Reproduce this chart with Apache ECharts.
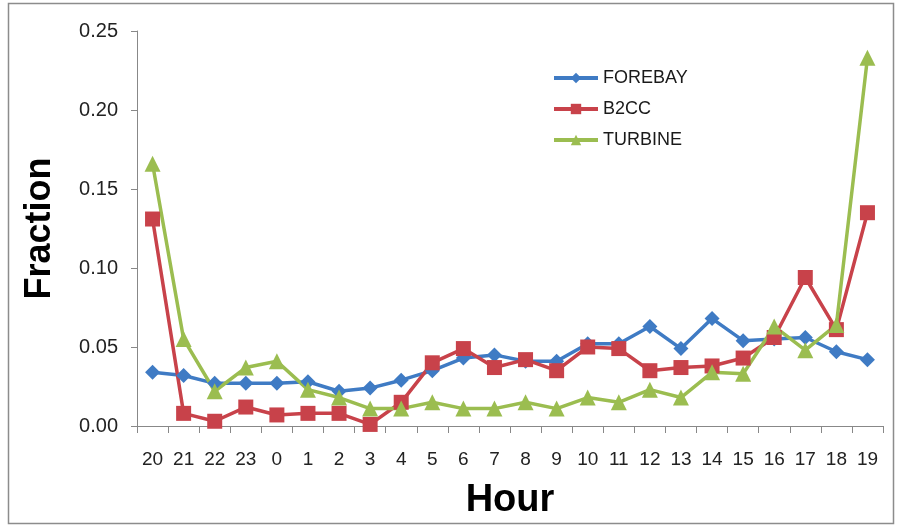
<!DOCTYPE html>
<html>
<head>
<meta charset="utf-8">
<style>
  html, body { margin: 0; padding: 0; background: #fff; }
  #chart { width: 898px; height: 526px; }
</style>
<script src="https://cdn.jsdelivr.net/npm/echarts@6/dist/echarts.min.js"></script>
</head>
<body>
<div id="chart"></div>
<script>
// Hour of day, starting at 20:00
const hours = ['20','21','22','23','0','1','2','3','4','5','6','7','8','9','10','11','12','13','14','15','16','17','18','19'];

const forebay = [0.034,0.032,0.027,0.027,0.027,0.028,0.022,0.024,0.029,0.035,0.043,0.045,0.041,0.041,0.052,0.052,0.063,0.049,0.068,0.054,0.055,0.056,0.047,0.042];
const b2cc    = [0.131,0.008,0.003,0.012,0.007,0.008,0.008,0.001,0.015,0.040,0.049,0.037,0.042,0.035,0.050,0.049,0.035,0.037,0.038,0.043,0.056,0.094,0.061,0.135];
const turbine = [0.166,0.055,0.022,0.037,0.041,0.023,0.018,0.011,0.011,0.015,0.011,0.011,0.015,0.011,0.018,0.015,0.023,0.018,0.034,0.033,0.063,0.048,0.064,0.233];

const yTicks = ['0.00','0.05','0.10','0.15','0.20','0.25'];

const labelFont = "'Liberation Sans', Arial, sans-serif";

const chart = echarts.init(document.getElementById('chart'), null, { renderer: 'canvas' });

function lineSeries(name, data, color, symbol, size) {
  return {
    name: name,
    type: 'line',
    data: data,
    symbol: symbol,
    symbolSize: size,
    lineStyle: { color: color, width: 3.5 },
    itemStyle: { color: color },
    emphasis: { disabled: true },
    animation: false
  };
}

chart.setOption({
  backgroundColor: '#ffffff',
  animation: false,
  graphic: [{
    type: 'rect',
    shape: { x: 8.5, y: 3.5, width: 885, height: 520 },
    style: { fill: 'none', stroke: '#8c8c8c', lineWidth: 1.5 },
    z: -1
  }],
  grid: { left: 137, right: 15, top: 31, bottom: 100, containLabel: false },
  legend: {
    orient: 'vertical',
    left: 552,
    top: 69,
    padding: 0,
    itemWidth: 44,
    itemHeight: 13,
    itemGap: 13,
    lineStyle: { width: 4 },
    textStyle: { fontFamily: labelFont, fontSize: 18, color: '#1a1a1a' },
    data: ['FOREBAY', 'B2CC', 'TURBINE']
  },
  xAxis: {
    type: 'category',
    data: hours,
    boundaryGap: true,
    name: 'Hour',
    nameLocation: 'middle',
    nameGap: 56,
    nameTextStyle: { fontFamily: labelFont, fontWeight: 'bold', fontSize: 38, color: '#000' },
    axisLine: { lineStyle: { color: '#888', width: 1 } },
    axisTick: { show: true, inside: false, length: 7, lineStyle: { color: '#888' } },
    axisLabel: { fontFamily: labelFont, fontSize: 19, color: '#222', margin: 24, interval: 0 },
    splitLine: { show: false }
  },
  yAxis: {
    type: 'value',
    min: 0,
    max: 0.25,
    interval: 0.05,
    name: 'Fraction',
    nameLocation: 'middle',
    nameGap: 79,
    nameTextStyle: { fontFamily: labelFont, fontWeight: 'bold', fontSize: 36, color: '#000' },
    axisLine: { show: true, lineStyle: { color: '#888', width: 1 } },
    axisTick: { show: true, inside: false, length: 6, lineStyle: { color: '#888' } },
    axisLabel: {
      fontFamily: labelFont, fontSize: 20, color: '#222', margin: 19,
      formatter: function (v) { return yTicks[Math.round(v / 0.05)]; }
    },
    splitLine: { show: false }
  },
  series: [
    lineSeries('FOREBAY', forebay, '#3f7bc4', 'diamond', 15),
    lineSeries('B2CC', b2cc, '#c8424a', 'rect', 15),
    lineSeries('TURBINE', turbine, '#9bbd50', 'triangle', 16)
  ]
});
</script>
</body>
</html>
